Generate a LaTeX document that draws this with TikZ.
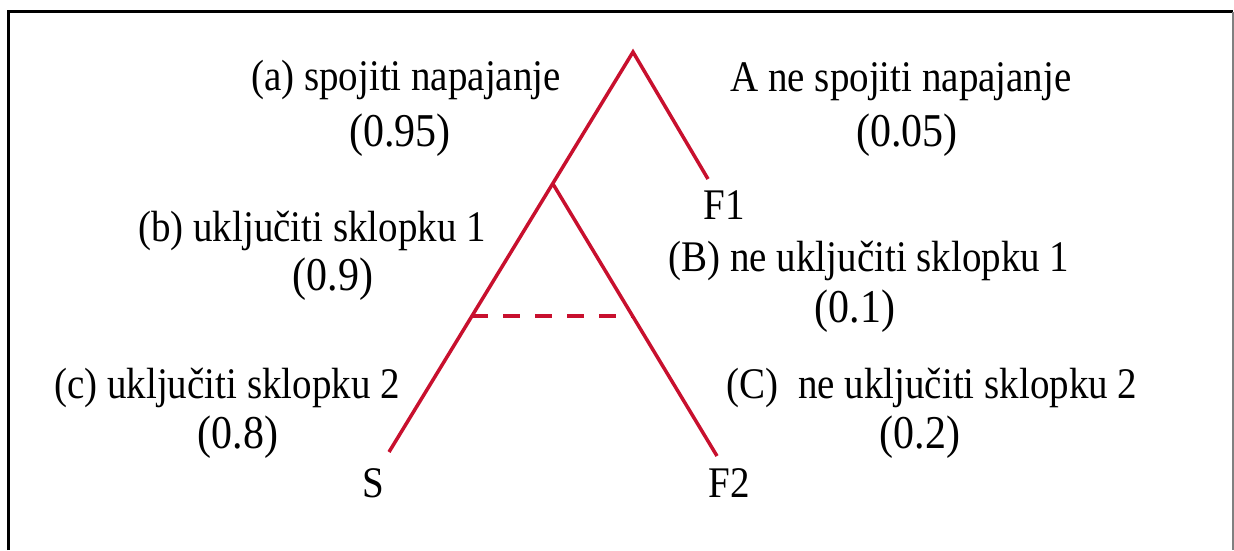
\documentclass[tikz,border=0pt]{standalone}
\usepackage{fontspec}
\setmainfont{Liberation Serif}
\definecolor{branch}{RGB}{200,16,46}
\newcommand{\tallt}[1]{\scalebox{1}[1.12]{#1}}
\tikzset{
  lbl/.style={anchor=base, inner sep=0pt, font=\fontsize{39}{44}\selectfont},
  num/.style={anchor=base, inner sep=0pt, font=\fontsize{42}{48}\selectfont},
  term/.style={anchor=base, inner sep=0pt, font=\fontsize{39}{44}\selectfont},
  branchline/.style={draw=branch, line width=3.5pt},
  dashline/.style={draw=branch, line width=3.5pt, dash pattern=on 17pt off 15pt}
}
\begin{document}
\begin{tikzpicture}[x=1pt, y=-1pt]
\useasboundingbox (0,0) rectangle (1234,550);
\fill[white] (0,0) rectangle (1234,550);
% frame
\draw[black, line width=3pt] (8,550) -- (8,11) -- (1233,11);
\draw[gray, line width=2pt] (1233,12) -- (1233,550);
% points
\coordinate (top) at (633,52);
\coordinate (f1end) at (708,179);
\coordinate (mid) at (553,184);
\coordinate (send) at (389,452);
\coordinate (f2end) at (717,456);
\coordinate (dl) at (471,316);
\coordinate (dr) at (632,316);
\draw[branchline] (send) -- (top) -- (f1end);
\draw[branchline] (mid) -- (f2end);
\draw[dashline] (dl) -- (dr);
% labels
\node[lbl] (la) at (406,90) {\tallt{(a) spojiti napajanje}};
\node[num] (na) at (400,146) {\tallt{(0.95)}};
\node[lbl] (lA) at (901,91) {\tallt{A ne spojiti napajanje}};
\node[num] (nA) at (907,146) {\tallt{(0.05)}};
\node[lbl] (lb) at (312,241) {\tallt{(b) uključiti sklopku 1}};
\node[num] (nb) at (333,290) {\tallt{(0.9)}};
\node[lbl] (lB) at (869,271) {\tallt{(B) ne uključiti sklopku 1}};
\node[num] (nB) at (855,322) {\tallt{(0.1)}};
\node[lbl] (lc) at (227,398) {\tallt{(c) uključiti sklopku 2}};
\node[num] (nc) at (238,448) {\tallt{(0.8)}};
\node[lbl] (lC) at (932,398) {\tallt{(C)\ \ ne uključiti sklopku 2}};
\node[num] (nC) at (920,448) {\tallt{(0.2)}};
\node[term] (S) at (373,497) {\tallt{S}};
\node[term] (F1) at (724,219) {\tallt{F1}};
\node[term] (F2) at (729,497) {\tallt{F2}};
\end{tikzpicture}
\end{document}
